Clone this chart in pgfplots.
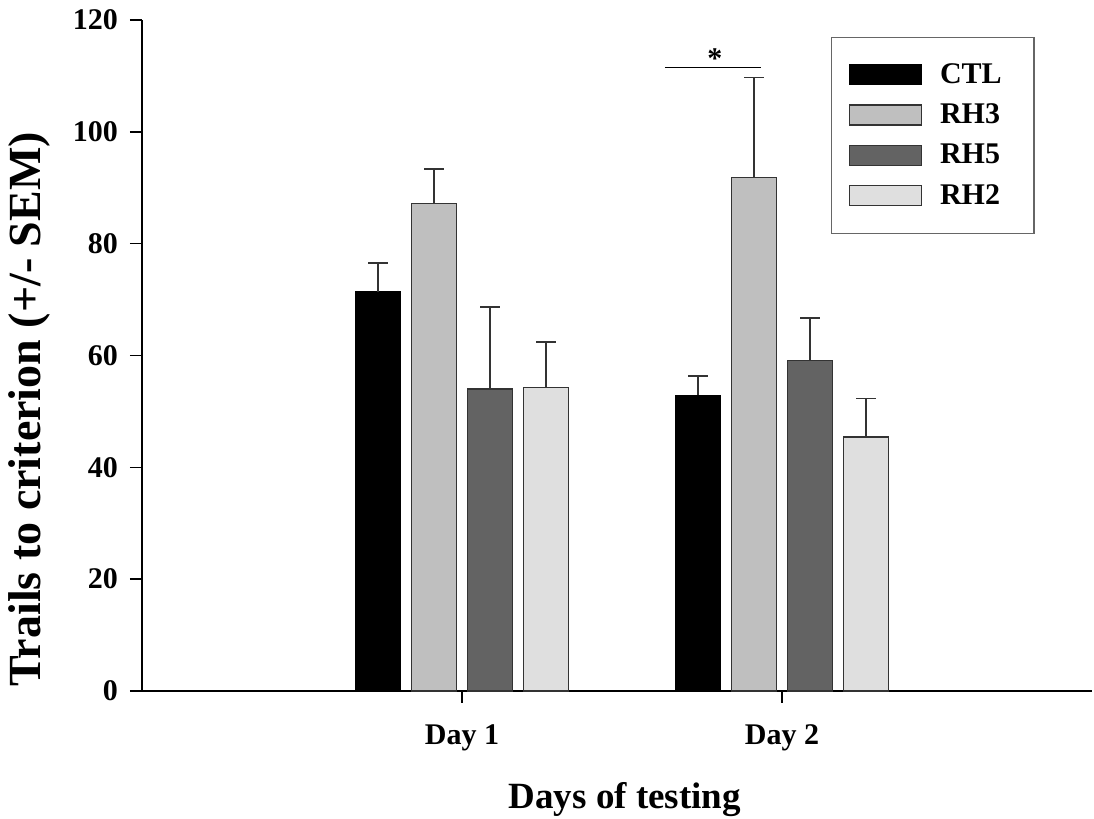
\documentclass[border=0pt]{standalone}
\usepackage{fontspec}
\setmainfont{Liberation Serif}
\usepackage{pgfplots}
\pgfplotsset{compat=1.18}
\definecolor{rhthree}{gray}{0.75}
\definecolor{rhfive}{gray}{0.39}
\definecolor{rhtwo}{gray}{0.875}
\definecolor{edge}{gray}{0.2}
\begin{document}
\begin{tikzpicture}
\path[use as bounding box] (-71pt,-64pt) rectangle (476pt,345.5pt);
\begin{axis}[
  scale only axis,
  width=475.2pt, height=335.5pt,
  xmin=0, xmax=2.97, ymin=0, ymax=120,
  axis x line*=bottom, axis y line*=left,
  axis line style={line width=1.2pt,-},
  xtick={1,2}, xticklabels={Day 1, Day 2},
  ytick={0,20,...,120},
  tick align=outside,
  major tick length=6pt,
  tick style={line width=0.8pt, black},
  /pgf/number format/assume math mode=true,
  ticklabel style={font=\bfseries\fontsize{15}{18}\selectfont},
  yticklabel style={xshift=-2.5pt},
  xticklabel style={yshift=-7.5pt},
  xlabel={Days of testing},
  ylabel={Trails to criterion (+/- SEM)},
  xlabel style={font=\bfseries\fontsize{18.5}{22}\selectfont, at={(axis description cs:0.508,0)}, anchor=base, yshift=-59pt},
  ylabel style={font=\bfseries\fontsize{23}{27}\selectfont, at={(axis description cs:-0.118,0.42)}, anchor=center, rotate=0},
  ybar=5.5pt,
  bar width=22.5pt,
  clip=false,
  error bars/y dir=plus, error bars/y explicit,
  error bars/error bar style={line width=0.9pt, edge},
  error bars/error mark options={rotate=90, mark size=5pt, line width=0.9pt, edge},
  legend image code/.code={\draw[#1] (0pt,-5pt) rectangle (36pt,5pt);},
  legend cell align=left,
  legend style={at={(0.725,0.975)}, anchor=north west, draw=gray!80!black, line width=0.6pt,
    font=\bfseries\fontsize{15}{18}\selectfont, inner xsep=8.5pt, inner ysep=11pt, row sep=4.75pt, column sep=7pt},
]
\addplot[fill=black, draw=black, line width=0.6pt] coordinates {(1,71.4) +- (0,5.2) (2,52.9) +- (0,3.4)};
\addplot[fill=rhthree, draw=edge, line width=0.7pt] coordinates {(1,87.2) +- (0,6.2) (2,91.8) +- (0,17.9)};
\addplot[fill=rhfive, draw=edge, line width=0.7pt] coordinates {(1,54.0) +- (0,14.7) (2,59.1) +- (0,7.6)};
\addplot[fill=rhtwo, draw=edge, line width=0.7pt] coordinates {(1,54.3) +- (0,8.1) (2,45.4) +- (0,6.9)};
\legend{\makebox[36.5pt][l]{CTL},\makebox[36.5pt][l]{RH3},\makebox[36.5pt][l]{RH5},\makebox[36.5pt][l]{RH2}}
\draw[line width=0.6pt] (axis cs:1.634,111.5) -- (axis cs:1.934,111.5);
\node[anchor=base, font=\bfseries\fontsize{15}{18}\selectfont] at (axis cs:1.79,111.3) {*};
\end{axis}
\end{tikzpicture}
\end{document}
